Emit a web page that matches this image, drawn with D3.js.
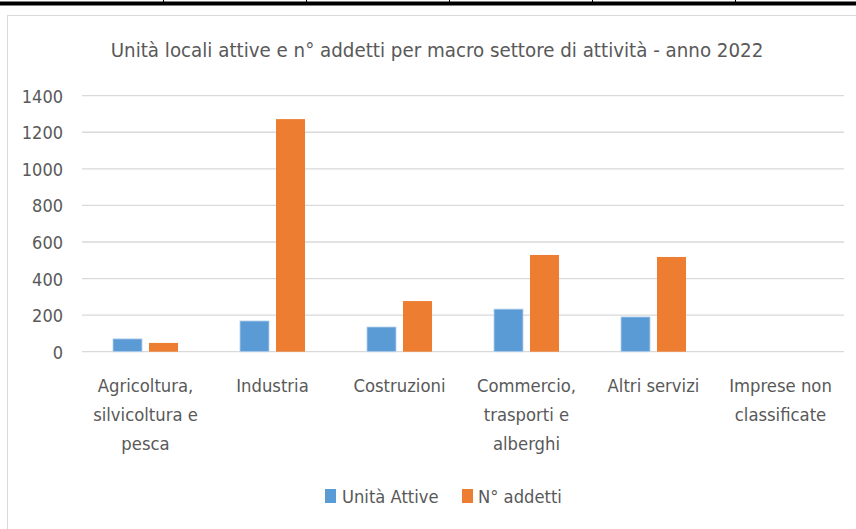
<!DOCTYPE html>
<html><head><meta charset="utf-8">
<script src="https://cdn.jsdelivr.net/npm/d3@7"></script>
<style>
html,body{margin:0;padding:0;background:#fff;}
svg{display:block;}
text{font-family:"DejaVu Sans Condensed","Liberation Sans",sans-serif;fill:#595959;}
</style></head>
<body>
<script>
const title = "Unità locali attive e n° addetti per macro settore di attività - anno 2022";
const categories = [
  ["Agricoltura,", "silvicoltura e", "pesca"],
  ["Industria"],
  ["Costruzioni"],
  ["Commercio,", "trasporti e", "alberghi"],
  ["Altri servizi"],
  ["Imprese non", "classificate"]
];
const seriesNames = ["Unità Attive", "N° addetti"];
const unitaAttive = [70, 168, 135, 233, 190, 0];
const addetti = [48, 1272, 277, 529, 518, 0];
const yTicks = [0, 200, 400, 600, 800, 1000, 1200, 1400];
const colors = ["#5B9BD5", "#ED7D31"];

const W = 856, H = 529;
const svg = d3.select("body").append("svg").attr("width", W).attr("height", H);

// outer decorations: top black rule with ticks
svg.append("rect").attr("x", 0).attr("y", 1.5).attr("width", W).attr("height", 4).attr("fill", "#000");
[163, 306, 449, 592, 735].forEach(x => {
  svg.append("line").attr("x1", x + 0.5).attr("x2", x + 0.5).attr("y1", 0).attr("y2", 2).attr("stroke", "#000");
});
// chart border
svg.append("rect").attr("x", 7.5).attr("y", 15.5).attr("width", 900).attr("height", 600)
  .attr("fill", "#fff").attr("stroke", "#d9d9d9").attr("stroke-width", 1);

const plot = {left: 82, right: 844, top: 95.7, bottom: 351.7};

const y = d3.scaleLinear().domain([0, 1400]).range([plot.bottom, plot.top]);
const x0 = d3.scaleBand().domain(d3.range(categories.length))
  .range([plot.left, plot.right]).paddingInner(0.488).paddingOuter(0.244);
const x1 = d3.scaleBand().domain([0, 1]).range([0, x0.bandwidth()]).paddingInner(0.194).paddingOuter(0);

// gridlines
const grid = svg.append("g");
grid.selectAll("line").data(yTicks).join("line")
  .attr("x1", plot.left).attr("x2", plot.right)
  .attr("y1", d => y(d)).attr("y2", d => y(d))
  .attr("stroke", "#d9d9d9").attr("stroke-width", 1.3);

// y axis labels
const yAxis = d3.axisLeft(y).tickValues(yTicks).tickFormat(d3.format("d")).tickSize(0).tickPadding(0);
const ya = svg.append("g").attr("transform", `translate(63,0)`).call(yAxis);
ya.select(".domain").remove();
ya.selectAll("text").attr("font-size", 18).attr("fill", "#595959")
  .style("font-family", '"DejaVu Sans Condensed","Liberation Sans",sans-serif')
  .attr("dy", "0.36em");

// bars
const series = [unitaAttive, addetti];
const groups = svg.append("g").selectAll("g").data(d3.range(categories.length)).join("g")
  .attr("transform", i => `translate(${x0(i)},0)`);
groups.selectAll("rect").data(i => series.map((s, k) => ({k, v: s[i]}))).join("rect")
  .attr("x", d => x1(d.k)).attr("width", x1.bandwidth())
  .attr("y", d => y(d.v)).attr("height", d => y(0) - y(d.v))
  .attr("fill", d => colors[d.k])
  .attr("stroke", d => d.k === 0 ? "#b7d2ee" : "none").attr("stroke-width", 0.8);

// category labels
const cat = svg.append("g");
categories.forEach((lines, i) => {
  const cx = x0(i) + x0.bandwidth() / 2;
  const t = cat.append("text").attr("text-anchor", "middle").attr("font-size", 18.3)
    .attr("x", cx).attr("y", 392);
  lines.forEach((l, j) => t.append("tspan").attr("x", cx).attr("dy", j === 0 ? 0 : 29).text(l));
});

// title
svg.append("text").attr("x", 437).attr("y", 57).attr("text-anchor", "middle")
  .attr("font-size", 20.3).text(title);

// legend
const leg = svg.append("g");
const legItems = [{x: 325, tx: 342}, {x: 462, tx: 478}];
seriesNames.forEach((n, k) => {
  leg.append("rect").attr("x", legItems[k].x).attr("y", 489).attr("width", 11).attr("height", 14).attr("fill", colors[k]);
  leg.append("text").attr("x", legItems[k].tx).attr("y", 503).attr("font-size", 18.2).text(n);
});
</script>
</body></html>
